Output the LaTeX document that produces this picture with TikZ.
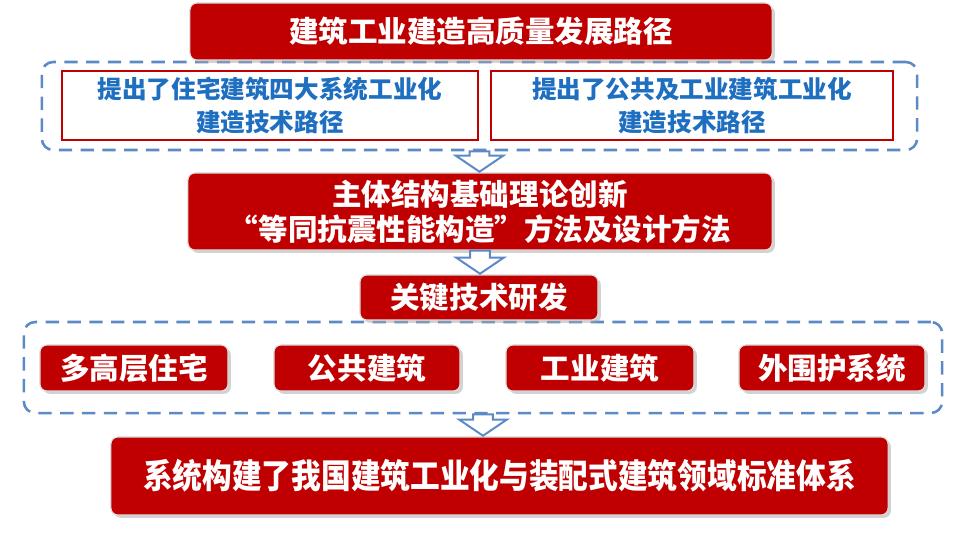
\documentclass[tikz,border=0pt]{standalone}
\usepackage{fontspec}
\setmainfont{Noto Sans CJK SC}
\usepackage{tikz}
\usetikzlibrary{calc, shadows}
\definecolor{deepred}{HTML}{C00000}
\definecolor{dashblue}{HTML}{5B8AC6}
\definecolor{textblue}{HTML}{1F6FC1}

% hollow block arrow pointing down, from one node to the next
\newcommand\hollowdown[2]{%
  \draw[hollow] let \p1=(#1.south), \p2=(#2.north) in
    (\x1-7pt,\y1) -- (\x1+7pt,\y1) -- (\x1+7pt,\y2+12pt) -- (\x1+17pt,\y2+12pt)
    -- (\x1,\y2+0.5pt) -- (\x1-17pt,\y2+12pt) -- (\x1-7pt,\y2+12pt) -- cycle;}

\begin{document}
\begin{tikzpicture}[
  x=0.025cm, y=-0.025cm,
  redbox/.style={rectangle, rounded corners=5pt, fill=deepred, draw=gray!25,
                 line width=0.8pt, text=white, font=\bfseries, align=center,
                 inner sep=0pt,
                 drop shadow={shadow xshift=2pt, shadow yshift=-2pt, fill=gray!70}},
  whitebox/.style={rectangle, draw=deepred, line width=1.2pt, fill=white,
                   text=textblue, font=\bfseries\fontsize{17.5}{23}\selectfont,
                   align=center, inner sep=0pt},
  dashbox/.style={rectangle, rounded corners=8pt, draw=dashblue, line width=1.8pt,
                  dash pattern=on 9.5pt off 6pt, inner sep=0pt},
  hollow/.style={draw=dashblue, fill=white, line width=1.4pt, line join=miter}
]
\useasboundingbox (0,0) rectangle (969,534);

% dashed groups
\node[dashbox, minimum width=21.875cm, minimum height=2.2cm]   (pathgroup) at (479.5,106) {};
\node[dashbox, minimum width=22.95cm,  minimum height=2.275cm] (techgroup) at (483,367.5) {};

% top
\node[redbox, minimum width=14.55cm, minimum height=1.425cm,
      font=\bfseries\fontsize{21}{25}\selectfont] (title) at (481,31.5)
  {建筑工业建造高质量发展路径};
\node[whitebox, minimum width=10.4cm,  minimum height=1.725cm] (housing) at (270,105.5)
  {提出了住宅建筑四大系统工业化\\建造技术路径};
\node[whitebox, minimum width=10.05cm, minimum height=1.725cm] (public) at (692,105.5)
  {提出了公共及工业建筑工业化\\建造技术路径};

% middle
\node[redbox, minimum width=14.6cm, minimum height=1.925cm,
      font=\bfseries\fontsize{21}{25}\selectfont] (theory) at (480,211.5)
  {主体结构基础理论创新\\“等同抗震性能构造”方法及设计方法};
\node[redbox, minimum width=5.95cm, minimum height=1.125cm,
      font=\bfseries\fontsize{21}{25}\selectfont] (keytech) at (479,297.5)
  {关键技术研发};

\node[redbox, minimum width=4.7cm, minimum height=1.15cm,
      font=\bfseries\fontsize{21}{25}\selectfont] (highrise) at (134,368) {多高层住宅};
\node[redbox, minimum width=4.65cm, minimum height=1.15cm,
      font=\bfseries\fontsize{21}{25}\selectfont] (publicbld) at (367,368) {公共建筑};
\node[redbox, minimum width=4.7cm, minimum height=1.15cm,
      font=\bfseries\fontsize{21}{25}\selectfont] (industrial) at (600,368) {工业建筑};
\node[redbox, minimum width=4.65cm, minimum height=1.15cm,
      font=\bfseries\fontsize{21}{25}\selectfont] (envelope) at (832,368) {外围护系统};

% bottom
\node[redbox, minimum width=19.425cm, minimum height=1.95cm,
      font=\bfseries\fontsize{24}{28}\selectfont\addfontfeature{FakeStretch=0.88}] (standard) at (499.5,476)
  {系统构建了我国建筑工业化与装配式建筑领域标准体系};

\hollowdown{pathgroup}{theory}
\hollowdown{theory}{keytech}
\hollowdown{techgroup}{standard}
\end{tikzpicture}
\end{document}
